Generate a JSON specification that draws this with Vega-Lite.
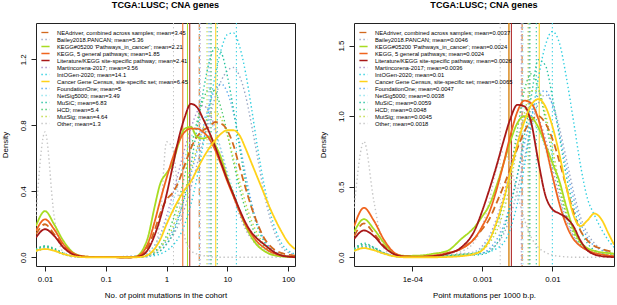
{
"$schema": "https://vega.github.io/schema/vega-lite/v6.json",
"padding": 0,
"autosize": {"type": "pad"},
"config": {
 "font": "Liberation Sans",
 "view": {"stroke": "#222", "strokeWidth": 1},
 "axis": {"grid": false, "domain": false, "tickColor": "#222", "tickSize": 5, "labelFontSize": 7.9, "titleFontSize": 7.9, "titleFontWeight": "normal", "labelColor": "#000", "titleColor": "#000", "labelOverlap": false, "labelFlush": false},
 "legend": {"orient": "top-left", "offset": 4, "padding": 2, "symbolType": "M-1.5,0H1.5", "symbolSize": 30, "symbolStrokeWidth": 1.3, "labelFontSize": 5.8, "labelOffset": 8, "rowPadding": 0, "labelLimit": 400, "labelColor": "#000"},
 "title": {"fontSize": 9.1, "fontWeight": "bold", "frame": "group", "offset": 12, "color": "#000"}
},
"datasets": {
 "meansL": [{"k":"a","m":3.45},{"k":"b","m":5.36},{"k":"c","m":2.21},{"k":"d","m":1.85},{"k":"e","m":2.41},{"k":"f","m":3.56},{"k":"g","m":14.1},{"k":"h","m":6.45},{"k":"i","m":5},{"k":"j","m":3.49},{"k":"k","m":6.83},{"k":"l","m":5.4},{"k":"m","m":4.64},{"k":"n","m":1.3}],
 "meansR": [{"k":"a","m":0.0037},{"k":"b","m":0.0046},{"k":"c","m":0.0024},{"k":"d","m":0.0024},{"k":"e","m":0.0026},{"k":"f","m":0.0036},{"k":"g","m":0.01},{"k":"h","m":0.0065},{"k":"i","m":0.0047},{"k":"j","m":0.0038},{"k":"k","m":0.0059},{"k":"l","m":0.0048},{"k":"m","m":0.0045},{"k":"n","m":0.0018}],
 "curvesL": [
{"k":"a","x":0.0071,"y":0.14},{"k":"a","x":0.01,"y":0.2},{"k":"a","x":0.0141,"y":0.14},{"k":"a","x":0.02,"y":0.07},{"k":"a","x":0.0316,"y":0.015},{"k":"a","x":0.0501,"y":0.002},{"k":"a","x":0.251,"y":0},{"k":"a","x":0.316,"y":0.003},{"k":"a","x":0.398,"y":0.02},{"k":"a","x":0.501,"y":0.07},{"k":"a","x":0.631,"y":0.16},{"k":"a","x":0.794,"y":0.27},{"k":"a","x":1,"y":0.35},{"k":"a","x":1.259,"y":0.39},{"k":"a","x":1.585,"y":0.46},{"k":"a","x":1.995,"y":0.56},{"k":"a","x":2.512,"y":0.66},{"k":"a","x":3.162,"y":0.73},{"k":"a","x":3.981,"y":0.77},{"k":"a","x":5.012,"y":0.79},{"k":"a","x":6.31,"y":0.82},{"k":"a","x":7.943,"y":0.81},{"k":"a","x":10,"y":0.77},{"k":"a","x":12.59,"y":0.68},{"k":"a","x":15.85,"y":0.55},{"k":"a","x":19.95,"y":0.42},{"k":"a","x":25.12,"y":0.3},{"k":"a","x":31.62,"y":0.2},{"k":"a","x":39.81,"y":0.12},{"k":"a","x":50.12,"y":0.07},{"k":"a","x":63.1,"y":0.04},{"k":"a","x":79.43,"y":0.025},{"k":"a","x":100,"y":0.015},{"k":"a","x":130,"y":0.01},
{"k":"c","x":0.0071,"y":0.19},{"k":"c","x":0.01,"y":0.28},{"k":"c","x":0.0141,"y":0.2},{"k":"c","x":0.02,"y":0.1},{"k":"c","x":0.0316,"y":0.02},{"k":"c","x":0.0501,"y":0.003},{"k":"c","x":0.251,"y":0},{"k":"c","x":0.316,"y":0.005},{"k":"c","x":0.398,"y":0.04},{"k":"c","x":0.501,"y":0.13},{"k":"c","x":0.631,"y":0.3},{"k":"c","x":0.794,"y":0.45},{"k":"c","x":1,"y":0.51},{"k":"c","x":1.259,"y":0.57},{"k":"c","x":1.585,"y":0.69},{"k":"c","x":1.995,"y":0.78},{"k":"c","x":2.512,"y":0.79},{"k":"c","x":3.162,"y":0.73},{"k":"c","x":3.981,"y":0.72},{"k":"c","x":5.012,"y":0.73},{"k":"c","x":6.31,"y":0.68},{"k":"c","x":7.943,"y":0.6},{"k":"c","x":10,"y":0.48},{"k":"c","x":12.59,"y":0.38},{"k":"c","x":15.85,"y":0.28},{"k":"c","x":19.95,"y":0.19},{"k":"c","x":25.12,"y":0.12},{"k":"c","x":31.62,"y":0.07},{"k":"c","x":39.81,"y":0.04},{"k":"c","x":50.12,"y":0.02},{"k":"c","x":63.1,"y":0.01},{"k":"c","x":79.43,"y":0.005},{"k":"c","x":100,"y":0.002},{"k":"c","x":130,"y":0},
{"k":"d","x":0.0071,"y":0.16},{"k":"d","x":0.01,"y":0.23},{"k":"d","x":0.0141,"y":0.17},{"k":"d","x":0.02,"y":0.08},{"k":"d","x":0.0316,"y":0.018},{"k":"d","x":0.0501,"y":0.003},{"k":"d","x":0.251,"y":0},{"k":"d","x":0.316,"y":0.004},{"k":"d","x":0.398,"y":0.025},{"k":"d","x":0.501,"y":0.09},{"k":"d","x":0.631,"y":0.21},{"k":"d","x":0.794,"y":0.35},{"k":"d","x":1,"y":0.48},{"k":"d","x":1.259,"y":0.6},{"k":"d","x":1.585,"y":0.7},{"k":"d","x":1.995,"y":0.76},{"k":"d","x":2.512,"y":0.78},{"k":"d","x":3.162,"y":0.78},{"k":"d","x":3.981,"y":0.76},{"k":"d","x":5.012,"y":0.72},{"k":"d","x":6.31,"y":0.65},{"k":"d","x":7.943,"y":0.56},{"k":"d","x":10,"y":0.46},{"k":"d","x":12.59,"y":0.37},{"k":"d","x":15.85,"y":0.28},{"k":"d","x":19.95,"y":0.2},{"k":"d","x":25.12,"y":0.14},{"k":"d","x":31.62,"y":0.09},{"k":"d","x":39.81,"y":0.06},{"k":"d","x":50.12,"y":0.035},{"k":"d","x":63.1,"y":0.02},{"k":"d","x":79.43,"y":0.01},{"k":"d","x":100,"y":0.005},{"k":"d","x":130,"y":0.002},
{"k":"e","x":0.0071,"y":0.12},{"k":"e","x":0.01,"y":0.17},{"k":"e","x":0.0141,"y":0.13},{"k":"e","x":0.02,"y":0.06},{"k":"e","x":0.0316,"y":0.012},{"k":"e","x":0.0501,"y":0.002},{"k":"e","x":0.251,"y":0},{"k":"e","x":0.316,"y":0.002},{"k":"e","x":0.398,"y":0.012},{"k":"e","x":0.501,"y":0.05},{"k":"e","x":0.631,"y":0.13},{"k":"e","x":0.794,"y":0.24},{"k":"e","x":1,"y":0.38},{"k":"e","x":1.259,"y":0.55},{"k":"e","x":1.585,"y":0.72},{"k":"e","x":1.995,"y":0.85},{"k":"e","x":2.512,"y":0.93},{"k":"e","x":3.162,"y":0.91},{"k":"e","x":3.981,"y":0.84},{"k":"e","x":5.012,"y":0.76},{"k":"e","x":6.31,"y":0.67},{"k":"e","x":7.943,"y":0.57},{"k":"e","x":10,"y":0.47},{"k":"e","x":12.59,"y":0.38},{"k":"e","x":15.85,"y":0.29},{"k":"e","x":19.95,"y":0.21},{"k":"e","x":25.12,"y":0.15},{"k":"e","x":31.62,"y":0.11},{"k":"e","x":39.81,"y":0.08},{"k":"e","x":50.12,"y":0.05},{"k":"e","x":63.1,"y":0.025},{"k":"e","x":79.43,"y":0.01},{"k":"e","x":100,"y":0.004},{"k":"e","x":130,"y":0.001},
{"k":"h","x":0.0071,"y":0.04},{"k":"h","x":0.01,"y":0.05},{"k":"h","x":0.0141,"y":0.04},{"k":"h","x":0.02,"y":0.02},{"k":"h","x":0.0316,"y":0.005},{"k":"h","x":0.0501,"y":0},{"k":"h","x":0.251,"y":0},{"k":"h","x":0.316,"y":0},{"k":"h","x":0.398,"y":0.003},{"k":"h","x":0.501,"y":0.015},{"k":"h","x":0.631,"y":0.05},{"k":"h","x":0.794,"y":0.11},{"k":"h","x":1,"y":0.2},{"k":"h","x":1.259,"y":0.28},{"k":"h","x":1.585,"y":0.35},{"k":"h","x":1.995,"y":0.41},{"k":"h","x":2.512,"y":0.46},{"k":"h","x":3.162,"y":0.53},{"k":"h","x":3.981,"y":0.6},{"k":"h","x":5.012,"y":0.66},{"k":"h","x":6.31,"y":0.71},{"k":"h","x":7.943,"y":0.75},{"k":"h","x":10,"y":0.77},{"k":"h","x":12.59,"y":0.77},{"k":"h","x":15.85,"y":0.74},{"k":"h","x":19.95,"y":0.66},{"k":"h","x":25.12,"y":0.57},{"k":"h","x":31.62,"y":0.48},{"k":"h","x":39.81,"y":0.39},{"k":"h","x":50.12,"y":0.3},{"k":"h","x":63.1,"y":0.22},{"k":"h","x":79.43,"y":0.15},{"k":"h","x":100,"y":0.09},{"k":"h","x":130,"y":0.05},
{"k":"b","x":0.0071,"y":0.04},{"k":"b","x":0.01,"y":0.06},{"k":"b","x":0.0141,"y":0.045},{"k":"b","x":0.02,"y":0.02},{"k":"b","x":0.0316,"y":0.005},{"k":"b","x":0.0501,"y":0},{"k":"b","x":0.398,"y":0.005},{"k":"b","x":0.501,"y":0.01},{"k":"b","x":0.631,"y":0.02},{"k":"b","x":0.794,"y":0.04},{"k":"b","x":1,"y":0.08},{"k":"b","x":1.259,"y":0.13},{"k":"b","x":1.585,"y":0.2},{"k":"b","x":1.995,"y":0.3},{"k":"b","x":2.512,"y":0.42},{"k":"b","x":3.162,"y":0.56},{"k":"b","x":3.981,"y":0.7},{"k":"b","x":5.012,"y":0.84},{"k":"b","x":6.31,"y":0.97},{"k":"b","x":7.943,"y":1.07},{"k":"b","x":10,"y":1.13},{"k":"b","x":12.59,"y":1.15},{"k":"b","x":15.85,"y":1.1},{"k":"b","x":19.95,"y":0.98},{"k":"b","x":25.12,"y":0.8},{"k":"b","x":31.62,"y":0.6},{"k":"b","x":39.81,"y":0.4},{"k":"b","x":50.12,"y":0.24},{"k":"b","x":63.1,"y":0.13},{"k":"b","x":79.43,"y":0.06},{"k":"b","x":100,"y":0.03},{"k":"b","x":130,"y":0.015},
{"k":"f","x":0.0071,"y":0.035},{"k":"f","x":0.01,"y":0.05},{"k":"f","x":0.0141,"y":0.04},{"k":"f","x":0.02,"y":0.018},{"k":"f","x":0.0316,"y":0.004},{"k":"f","x":0.0501,"y":0},{"k":"f","x":0.398,"y":0.01},{"k":"f","x":0.501,"y":0.03},{"k":"f","x":0.631,"y":0.07},{"k":"f","x":0.794,"y":0.14},{"k":"f","x":1,"y":0.25},{"k":"f","x":1.259,"y":0.38},{"k":"f","x":1.585,"y":0.52},{"k":"f","x":1.995,"y":0.66},{"k":"f","x":2.512,"y":0.78},{"k":"f","x":3.162,"y":0.88},{"k":"f","x":3.981,"y":0.92},{"k":"f","x":5.012,"y":0.88},{"k":"f","x":6.31,"y":0.78},{"k":"f","x":7.943,"y":0.64},{"k":"f","x":10,"y":0.5},{"k":"f","x":12.59,"y":0.37},{"k":"f","x":15.85,"y":0.26},{"k":"f","x":19.95,"y":0.17},{"k":"f","x":25.12,"y":0.11},{"k":"f","x":31.62,"y":0.07},{"k":"f","x":39.81,"y":0.04},{"k":"f","x":50.12,"y":0.02},{"k":"f","x":63.1,"y":0.01},{"k":"f","x":79.43,"y":0.005},{"k":"f","x":100,"y":0.002},{"k":"f","x":130,"y":0},
{"k":"g","x":0.0071,"y":0.04},{"k":"g","x":0.01,"y":0.06},{"k":"g","x":0.0141,"y":0.045},{"k":"g","x":0.02,"y":0.02},{"k":"g","x":0.0316,"y":0.005},{"k":"g","x":0.0501,"y":0},{"k":"g","x":0.398,"y":0},{"k":"g","x":0.501,"y":0.005},{"k":"g","x":0.631,"y":0.01},{"k":"g","x":0.794,"y":0.02},{"k":"g","x":1,"y":0.04},{"k":"g","x":1.259,"y":0.07},{"k":"g","x":1.585,"y":0.12},{"k":"g","x":1.995,"y":0.2},{"k":"g","x":2.512,"y":0.32},{"k":"g","x":3.162,"y":0.48},{"k":"g","x":3.981,"y":0.68},{"k":"g","x":5.012,"y":0.9},{"k":"g","x":6.31,"y":1.1},{"k":"g","x":7.943,"y":1.26},{"k":"g","x":10,"y":1.35},{"k":"g","x":12.59,"y":1.36},{"k":"g","x":15.85,"y":1.28},{"k":"g","x":19.95,"y":1.12},{"k":"g","x":25.12,"y":0.9},{"k":"g","x":31.62,"y":0.66},{"k":"g","x":39.81,"y":0.45},{"k":"g","x":50.12,"y":0.28},{"k":"g","x":63.1,"y":0.16},{"k":"g","x":79.43,"y":0.08},{"k":"g","x":100,"y":0.04},{"k":"g","x":130,"y":0.02},
{"k":"i","x":0.0071,"y":0.045},{"k":"i","x":0.01,"y":0.065},{"k":"i","x":0.0141,"y":0.05},{"k":"i","x":0.02,"y":0.022},{"k":"i","x":0.0316,"y":0.005},{"k":"i","x":0.0501,"y":0},{"k":"i","x":0.398,"y":0.005},{"k":"i","x":0.501,"y":0.015},{"k":"i","x":0.631,"y":0.03},{"k":"i","x":0.794,"y":0.06},{"k":"i","x":1,"y":0.1},{"k":"i","x":1.259,"y":0.16},{"k":"i","x":1.585,"y":0.25},{"k":"i","x":1.995,"y":0.36},{"k":"i","x":2.512,"y":0.5},{"k":"i","x":3.162,"y":0.64},{"k":"i","x":3.981,"y":0.78},{"k":"i","x":5.012,"y":0.92},{"k":"i","x":6.31,"y":1.02},{"k":"i","x":7.943,"y":1.05},{"k":"i","x":10,"y":1.0},{"k":"i","x":12.59,"y":0.88},{"k":"i","x":15.85,"y":0.7},{"k":"i","x":19.95,"y":0.5},{"k":"i","x":25.12,"y":0.33},{"k":"i","x":31.62,"y":0.2},{"k":"i","x":39.81,"y":0.11},{"k":"i","x":50.12,"y":0.06},{"k":"i","x":63.1,"y":0.03},{"k":"i","x":79.43,"y":0.015},{"k":"i","x":100,"y":0.008},{"k":"i","x":130,"y":0.004},
{"k":"j","x":0.0071,"y":0.04},{"k":"j","x":0.01,"y":0.055},{"k":"j","x":0.0141,"y":0.04},{"k":"j","x":0.02,"y":0.018},{"k":"j","x":0.0316,"y":0.004},{"k":"j","x":0.0501,"y":0},{"k":"j","x":0.398,"y":0.01},{"k":"j","x":0.501,"y":0.03},{"k":"j","x":0.631,"y":0.07},{"k":"j","x":0.794,"y":0.13},{"k":"j","x":1,"y":0.22},{"k":"j","x":1.259,"y":0.33},{"k":"j","x":1.585,"y":0.46},{"k":"j","x":1.995,"y":0.6},{"k":"j","x":2.512,"y":0.72},{"k":"j","x":3.162,"y":0.81},{"k":"j","x":3.981,"y":0.85},{"k":"j","x":5.012,"y":0.83},{"k":"j","x":6.31,"y":0.76},{"k":"j","x":7.943,"y":0.65},{"k":"j","x":10,"y":0.52},{"k":"j","x":12.59,"y":0.4},{"k":"j","x":15.85,"y":0.29},{"k":"j","x":19.95,"y":0.2},{"k":"j","x":25.12,"y":0.13},{"k":"j","x":31.62,"y":0.08},{"k":"j","x":39.81,"y":0.05},{"k":"j","x":50.12,"y":0.03},{"k":"j","x":63.1,"y":0.015},{"k":"j","x":79.43,"y":0.008},{"k":"j","x":100,"y":0.004},{"k":"j","x":130,"y":0},
{"k":"k","x":0.0071,"y":0.05},{"k":"k","x":0.01,"y":0.07},{"k":"k","x":0.0141,"y":0.055},{"k":"k","x":0.02,"y":0.025},{"k":"k","x":0.0316,"y":0.006},{"k":"k","x":0.0501,"y":0},{"k":"k","x":0.398,"y":0.003},{"k":"k","x":0.501,"y":0.008},{"k":"k","x":0.631,"y":0.02},{"k":"k","x":0.794,"y":0.04},{"k":"k","x":1,"y":0.08},{"k":"k","x":1.259,"y":0.14},{"k":"k","x":1.585,"y":0.24},{"k":"k","x":1.995,"y":0.38},{"k":"k","x":2.512,"y":0.56},{"k":"k","x":3.162,"y":0.78},{"k":"k","x":3.981,"y":1.0},{"k":"k","x":5.012,"y":1.18},{"k":"k","x":6.31,"y":1.27},{"k":"k","x":7.943,"y":1.24},{"k":"k","x":10,"y":1.1},{"k":"k","x":12.59,"y":0.9},{"k":"k","x":15.85,"y":0.67},{"k":"k","x":19.95,"y":0.46},{"k":"k","x":25.12,"y":0.3},{"k":"k","x":31.62,"y":0.18},{"k":"k","x":39.81,"y":0.1},{"k":"k","x":50.12,"y":0.05},{"k":"k","x":63.1,"y":0.025},{"k":"k","x":79.43,"y":0.012},{"k":"k","x":100,"y":0.006},{"k":"k","x":130,"y":0.003},
{"k":"l","x":0.0071,"y":0.045},{"k":"l","x":0.01,"y":0.065},{"k":"l","x":0.0141,"y":0.05},{"k":"l","x":0.02,"y":0.022},{"k":"l","x":0.0316,"y":0.005},{"k":"l","x":0.0501,"y":0},{"k":"l","x":0.398,"y":0.005},{"k":"l","x":0.501,"y":0.015},{"k":"l","x":0.631,"y":0.035},{"k":"l","x":0.794,"y":0.07},{"k":"l","x":1,"y":0.13},{"k":"l","x":1.259,"y":0.22},{"k":"l","x":1.585,"y":0.34},{"k":"l","x":1.995,"y":0.5},{"k":"l","x":2.512,"y":0.66},{"k":"l","x":3.162,"y":0.82},{"k":"l","x":3.981,"y":0.95},{"k":"l","x":5.012,"y":1.02},{"k":"l","x":6.31,"y":1.0},{"k":"l","x":7.943,"y":0.9},{"k":"l","x":10,"y":0.75},{"k":"l","x":12.59,"y":0.58},{"k":"l","x":15.85,"y":0.42},{"k":"l","x":19.95,"y":0.29},{"k":"l","x":25.12,"y":0.19},{"k":"l","x":31.62,"y":0.12},{"k":"l","x":39.81,"y":0.07},{"k":"l","x":50.12,"y":0.04},{"k":"l","x":63.1,"y":0.02},{"k":"l","x":79.43,"y":0.01},{"k":"l","x":100,"y":0.005},{"k":"l","x":130,"y":0.002},
{"k":"m","x":0.0071,"y":0.035},{"k":"m","x":0.01,"y":0.05},{"k":"m","x":0.0141,"y":0.04},{"k":"m","x":0.02,"y":0.018},{"k":"m","x":0.0316,"y":0.004},{"k":"m","x":0.0501,"y":0},{"k":"m","x":0.398,"y":0.005},{"k":"m","x":0.501,"y":0.015},{"k":"m","x":0.631,"y":0.03},{"k":"m","x":0.794,"y":0.06},{"k":"m","x":1,"y":0.11},{"k":"m","x":1.259,"y":0.18},{"k":"m","x":1.585,"y":0.28},{"k":"m","x":1.995,"y":0.4},{"k":"m","x":2.512,"y":0.53},{"k":"m","x":3.162,"y":0.66},{"k":"m","x":3.981,"y":0.78},{"k":"m","x":5.012,"y":0.86},{"k":"m","x":6.31,"y":0.88},{"k":"m","x":7.943,"y":0.84},{"k":"m","x":10,"y":0.74},{"k":"m","x":12.59,"y":0.6},{"k":"m","x":15.85,"y":0.46},{"k":"m","x":19.95,"y":0.33},{"k":"m","x":25.12,"y":0.22},{"k":"m","x":31.62,"y":0.14},{"k":"m","x":39.81,"y":0.08},{"k":"m","x":50.12,"y":0.045},{"k":"m","x":63.1,"y":0.025},{"k":"m","x":79.43,"y":0.012},{"k":"m","x":100,"y":0.006},{"k":"m","x":130,"y":0.003},
{"k":"n","x":0.0071,"y":0.25},{"k":"n","x":0.01,"y":0.76},{"k":"n","x":0.0141,"y":0.25},{"k":"n","x":0.02,"y":0.03},{"k":"n","x":0.0316,"y":0},{"k":"n","x":0.0501,"y":0},{"k":"n","x":0.398,"y":0},{"k":"n","x":0.501,"y":0.005},{"k":"n","x":0.631,"y":0.04},{"k":"n","x":0.794,"y":0.25},{"k":"n","x":1,"y":0.7},{"k":"n","x":1.259,"y":0.66},{"k":"n","x":1.585,"y":0.35},{"k":"n","x":1.995,"y":0.12},{"k":"n","x":2.512,"y":0.04},{"k":"n","x":3.162,"y":0.02},{"k":"n","x":3.981,"y":0.01},{"k":"n","x":5.012,"y":0.005},{"k":"n","x":6.31,"y":0},{"k":"n","x":130,"y":0}
 ],
 "curvesR": [
{"k":"a","x":1.48e-5,"y":0.15},{"k":"a","x":2.04e-5,"y":0.24},{"k":"a","x":2.82e-5,"y":0.17},{"k":"a","x":3.98e-5,"y":0.08},{"k":"a","x":5.62e-5,"y":0.02},{"k":"a","x":7.94e-5,"y":0.004},{"k":"a","x":1.26e-4,"y":0.003},{"k":"a","x":2.0e-4,"y":0.01},{"k":"a","x":3.16e-4,"y":0.03},{"k":"a","x":5.01e-4,"y":0.06},{"k":"a","x":7.94e-4,"y":0.14},{"k":"a","x":0.001,"y":0.2},{"k":"a","x":0.00126,"y":0.27},{"k":"a","x":0.00158,"y":0.38},{"k":"a","x":0.002,"y":0.5},{"k":"a","x":0.00251,"y":0.63},{"k":"a","x":0.00316,"y":0.77},{"k":"a","x":0.00398,"y":0.89},{"k":"a","x":0.00501,"y":0.97},{"k":"a","x":0.00631,"y":1.0},{"k":"a","x":0.00794,"y":0.95},{"k":"a","x":0.01,"y":0.84},{"k":"a","x":0.0126,"y":0.68},{"k":"a","x":0.0158,"y":0.5},{"k":"a","x":0.02,"y":0.32},{"k":"a","x":0.0251,"y":0.19},{"k":"a","x":0.0316,"y":0.12},{"k":"a","x":0.0398,"y":0.08},{"k":"a","x":0.0501,"y":0.06},{"k":"a","x":0.0631,"y":0.045},{"k":"a","x":0.0759,"y":0.04},
{"k":"c","x":1.48e-5,"y":0.18},{"k":"c","x":2.04e-5,"y":0.27},{"k":"c","x":2.82e-5,"y":0.2},{"k":"c","x":3.98e-5,"y":0.1},{"k":"c","x":5.62e-5,"y":0.025},{"k":"c","x":7.94e-5,"y":0.01},{"k":"c","x":1.26e-4,"y":0.012},{"k":"c","x":2.0e-4,"y":0.025},{"k":"c","x":3.16e-4,"y":0.045},{"k":"c","x":5.01e-4,"y":0.13},{"k":"c","x":7.94e-4,"y":0.22},{"k":"c","x":0.001,"y":0.29},{"k":"c","x":0.00126,"y":0.37},{"k":"c","x":0.00158,"y":0.5},{"k":"c","x":0.002,"y":0.66},{"k":"c","x":0.00251,"y":0.82},{"k":"c","x":0.00316,"y":0.95},{"k":"c","x":0.00398,"y":1.0},{"k":"c","x":0.00501,"y":0.99},{"k":"c","x":0.00631,"y":0.92},{"k":"c","x":0.00794,"y":0.8},{"k":"c","x":0.01,"y":0.67},{"k":"c","x":0.0126,"y":0.54},{"k":"c","x":0.0158,"y":0.36},{"k":"c","x":0.02,"y":0.2},{"k":"c","x":0.0251,"y":0.11},{"k":"c","x":0.0316,"y":0.065},{"k":"c","x":0.0398,"y":0.045},{"k":"c","x":0.0501,"y":0.035},{"k":"c","x":0.0631,"y":0.03},{"k":"c","x":0.0759,"y":0.025},
{"k":"d","x":1.48e-5,"y":0.22},{"k":"d","x":2.04e-5,"y":0.35},{"k":"d","x":2.82e-5,"y":0.26},{"k":"d","x":3.98e-5,"y":0.12},{"k":"d","x":5.62e-5,"y":0.03},{"k":"d","x":7.94e-5,"y":0.006},{"k":"d","x":1.26e-4,"y":0.004},{"k":"d","x":2.0e-4,"y":0.012},{"k":"d","x":3.16e-4,"y":0.03},{"k":"d","x":5.01e-4,"y":0.06},{"k":"d","x":7.94e-4,"y":0.14},{"k":"d","x":0.001,"y":0.22},{"k":"d","x":0.00126,"y":0.32},{"k":"d","x":0.00158,"y":0.47},{"k":"d","x":0.002,"y":0.66},{"k":"d","x":0.00251,"y":0.86},{"k":"d","x":0.00316,"y":1.03},{"k":"d","x":0.00398,"y":1.11},{"k":"d","x":0.00501,"y":1.09},{"k":"d","x":0.00631,"y":0.98},{"k":"d","x":0.00794,"y":0.8},{"k":"d","x":0.01,"y":0.58},{"k":"d","x":0.0126,"y":0.38},{"k":"d","x":0.0158,"y":0.23},{"k":"d","x":0.02,"y":0.13},{"k":"d","x":0.0251,"y":0.08},{"k":"d","x":0.0316,"y":0.05},{"k":"d","x":0.0398,"y":0.03},{"k":"d","x":0.0501,"y":0.02},{"k":"d","x":0.0631,"y":0.012},{"k":"d","x":0.0759,"y":0.008},
{"k":"e","x":1.48e-5,"y":0.13},{"k":"e","x":2.04e-5,"y":0.19},{"k":"e","x":2.82e-5,"y":0.15},{"k":"e","x":3.98e-5,"y":0.07},{"k":"e","x":5.62e-5,"y":0.02},{"k":"e","x":7.94e-5,"y":0.004},{"k":"e","x":1.26e-4,"y":0.003},{"k":"e","x":2.0e-4,"y":0.008},{"k":"e","x":3.16e-4,"y":0.025},{"k":"e","x":5.01e-4,"y":0.07},{"k":"e","x":7.94e-4,"y":0.2},{"k":"e","x":0.001,"y":0.33},{"k":"e","x":0.00126,"y":0.48},{"k":"e","x":0.00158,"y":0.64},{"k":"e","x":0.002,"y":0.82},{"k":"e","x":0.00251,"y":0.98},{"k":"e","x":0.00316,"y":1.08},{"k":"e","x":0.00398,"y":1.07},{"k":"e","x":0.00501,"y":0.95},{"k":"e","x":0.00631,"y":0.68},{"k":"e","x":0.00794,"y":0.44},{"k":"e","x":0.01,"y":0.34},{"k":"e","x":0.0126,"y":0.31},{"k":"e","x":0.0158,"y":0.28},{"k":"e","x":0.02,"y":0.22},{"k":"e","x":0.0251,"y":0.12},{"k":"e","x":0.0316,"y":0.05},{"k":"e","x":0.0398,"y":0.02},{"k":"e","x":0.0501,"y":0.008},{"k":"e","x":0.0631,"y":0.003},{"k":"e","x":0.0759,"y":0.001},
{"k":"h","x":1.48e-5,"y":0.045},{"k":"h","x":2.04e-5,"y":0.065},{"k":"h","x":2.82e-5,"y":0.05},{"k":"h","x":3.98e-5,"y":0.025},{"k":"h","x":5.62e-5,"y":0.006},{"k":"h","x":7.94e-5,"y":0},{"k":"h","x":1.26e-4,"y":0},{"k":"h","x":2.0e-4,"y":0},{"k":"h","x":3.16e-4,"y":0.002},{"k":"h","x":5.01e-4,"y":0.008},{"k":"h","x":7.94e-4,"y":0.025},{"k":"h","x":0.001,"y":0.05},{"k":"h","x":0.00126,"y":0.12},{"k":"h","x":0.00158,"y":0.24},{"k":"h","x":0.002,"y":0.4},{"k":"h","x":0.00251,"y":0.6},{"k":"h","x":0.00316,"y":0.8},{"k":"h","x":0.00398,"y":0.96},{"k":"h","x":0.00501,"y":1.08},{"k":"h","x":0.00631,"y":1.12},{"k":"h","x":0.00794,"y":1.07},{"k":"h","x":0.01,"y":0.93},{"k":"h","x":0.0126,"y":0.73},{"k":"h","x":0.0158,"y":0.5},{"k":"h","x":0.02,"y":0.3},{"k":"h","x":0.0251,"y":0.22},{"k":"h","x":0.0316,"y":0.26},{"k":"h","x":0.0398,"y":0.31},{"k":"h","x":0.0501,"y":0.27},{"k":"h","x":0.0631,"y":0.17},{"k":"h","x":0.0759,"y":0.09},
{"k":"b","x":1.48e-5,"y":0.05},{"k":"b","x":2.04e-5,"y":0.08},{"k":"b","x":2.82e-5,"y":0.06},{"k":"b","x":3.98e-5,"y":0.03},{"k":"b","x":5.62e-5,"y":0.008},{"k":"b","x":7.94e-5,"y":0.002},{"k":"b","x":1.26e-4,"y":0.002},{"k":"b","x":2.0e-4,"y":0.005},{"k":"b","x":3.16e-4,"y":0.01},{"k":"b","x":5.01e-4,"y":0.015},{"k":"b","x":7.94e-4,"y":0.02},{"k":"b","x":0.001,"y":0.03},{"k":"b","x":0.00126,"y":0.05},{"k":"b","x":0.00158,"y":0.09},{"k":"b","x":0.002,"y":0.16},{"k":"b","x":0.00251,"y":0.29},{"k":"b","x":0.00316,"y":0.47},{"k":"b","x":0.00398,"y":0.7},{"k":"b","x":0.00501,"y":0.92},{"k":"b","x":0.00631,"y":1.09},{"k":"b","x":0.00794,"y":1.15},{"k":"b","x":0.01,"y":1.09},{"k":"b","x":0.0126,"y":0.92},{"k":"b","x":0.0158,"y":0.7},{"k":"b","x":0.02,"y":0.47},{"k":"b","x":0.0251,"y":0.29},{"k":"b","x":0.0316,"y":0.17},{"k":"b","x":0.0398,"y":0.1},{"k":"b","x":0.0501,"y":0.06},{"k":"b","x":0.0631,"y":0.035},{"k":"b","x":0.0759,"y":0.025},
{"k":"f","x":1.48e-5,"y":0.045},{"k":"f","x":2.04e-5,"y":0.07},{"k":"f","x":2.82e-5,"y":0.05},{"k":"f","x":3.98e-5,"y":0.025},{"k":"f","x":5.62e-5,"y":0.006},{"k":"f","x":7.94e-5,"y":0.002},{"k":"f","x":1.26e-4,"y":0.003},{"k":"f","x":2.0e-4,"y":0.008},{"k":"f","x":3.16e-4,"y":0.015},{"k":"f","x":5.01e-4,"y":0.025},{"k":"f","x":7.94e-4,"y":0.04},{"k":"f","x":0.001,"y":0.08},{"k":"f","x":0.00126,"y":0.15},{"k":"f","x":0.00158,"y":0.27},{"k":"f","x":0.002,"y":0.43},{"k":"f","x":0.00251,"y":0.64},{"k":"f","x":0.00316,"y":0.84},{"k":"f","x":0.00398,"y":0.99},{"k":"f","x":0.00501,"y":1.05},{"k":"f","x":0.00631,"y":0.99},{"k":"f","x":0.00794,"y":0.84},{"k":"f","x":0.01,"y":0.64},{"k":"f","x":0.0126,"y":0.43},{"k":"f","x":0.0158,"y":0.27},{"k":"f","x":0.02,"y":0.15},{"k":"f","x":0.0251,"y":0.08},{"k":"f","x":0.0316,"y":0.05},{"k":"f","x":0.0398,"y":0.03},{"k":"f","x":0.0501,"y":0.02},{"k":"f","x":0.0631,"y":0.015},{"k":"f","x":0.0759,"y":0.01},
{"k":"g","x":1.48e-5,"y":0.05},{"k":"g","x":2.04e-5,"y":0.075},{"k":"g","x":2.82e-5,"y":0.055},{"k":"g","x":3.98e-5,"y":0.025},{"k":"g","x":5.62e-5,"y":0.006},{"k":"g","x":7.94e-5,"y":0.002},{"k":"g","x":1.26e-4,"y":0.003},{"k":"g","x":2.0e-4,"y":0.006},{"k":"g","x":3.16e-4,"y":0.01},{"k":"g","x":5.01e-4,"y":0.015},{"k":"g","x":7.94e-4,"y":0.02},{"k":"g","x":0.001,"y":0.03},{"k":"g","x":0.00126,"y":0.04},{"k":"g","x":0.00158,"y":0.06},{"k":"g","x":0.002,"y":0.1},{"k":"g","x":0.00251,"y":0.2},{"k":"g","x":0.00316,"y":0.38},{"k":"g","x":0.00398,"y":0.64},{"k":"g","x":0.00501,"y":0.96},{"k":"g","x":0.00631,"y":1.27},{"k":"g","x":0.00794,"y":1.5},{"k":"g","x":0.01,"y":1.6},{"k":"g","x":0.0126,"y":1.52},{"k":"g","x":0.0158,"y":1.28},{"k":"g","x":0.02,"y":0.97},{"k":"g","x":0.0251,"y":0.66},{"k":"g","x":0.0316,"y":0.42},{"k":"g","x":0.0398,"y":0.3},{"k":"g","x":0.0501,"y":0.2},{"k":"g","x":0.0631,"y":0.12},{"k":"g","x":0.0759,"y":0.07},
{"k":"i","x":1.48e-5,"y":0.06},{"k":"i","x":2.04e-5,"y":0.09},{"k":"i","x":2.82e-5,"y":0.07},{"k":"i","x":3.98e-5,"y":0.03},{"k":"i","x":5.62e-5,"y":0.008},{"k":"i","x":7.94e-5,"y":0.002},{"k":"i","x":1.26e-4,"y":0.003},{"k":"i","x":2.0e-4,"y":0.008},{"k":"i","x":3.16e-4,"y":0.015},{"k":"i","x":5.01e-4,"y":0.02},{"k":"i","x":7.94e-4,"y":0.025},{"k":"i","x":0.001,"y":0.03},{"k":"i","x":0.00126,"y":0.06},{"k":"i","x":0.00158,"y":0.12},{"k":"i","x":0.002,"y":0.22},{"k":"i","x":0.00251,"y":0.38},{"k":"i","x":0.00316,"y":0.58},{"k":"i","x":0.00398,"y":0.8},{"k":"i","x":0.00501,"y":1.0},{"k":"i","x":0.00631,"y":1.15},{"k":"i","x":0.00794,"y":1.18},{"k":"i","x":0.01,"y":1.08},{"k":"i","x":0.0126,"y":0.88},{"k":"i","x":0.0158,"y":0.64},{"k":"i","x":0.02,"y":0.42},{"k":"i","x":0.0251,"y":0.25},{"k":"i","x":0.0316,"y":0.14},{"k":"i","x":0.0398,"y":0.08},{"k":"i","x":0.0501,"y":0.05},{"k":"i","x":0.0631,"y":0.03},{"k":"i","x":0.0759,"y":0.02},
{"k":"j","x":1.48e-5,"y":0.04},{"k":"j","x":2.04e-5,"y":0.065},{"k":"j","x":2.82e-5,"y":0.05},{"k":"j","x":3.98e-5,"y":0.022},{"k":"j","x":5.62e-5,"y":0.005},{"k":"j","x":7.94e-5,"y":0.001},{"k":"j","x":1.26e-4,"y":0.002},{"k":"j","x":2.0e-4,"y":0.006},{"k":"j","x":3.16e-4,"y":0.012},{"k":"j","x":5.01e-4,"y":0.02},{"k":"j","x":7.94e-4,"y":0.04},{"k":"j","x":0.001,"y":0.07},{"k":"j","x":0.00126,"y":0.14},{"k":"j","x":0.00158,"y":0.25},{"k":"j","x":0.002,"y":0.4},{"k":"j","x":0.00251,"y":0.58},{"k":"j","x":0.00316,"y":0.77},{"k":"j","x":0.00398,"y":0.9},{"k":"j","x":0.00501,"y":0.95},{"k":"j","x":0.00631,"y":0.9},{"k":"j","x":0.00794,"y":0.77},{"k":"j","x":0.01,"y":0.58},{"k":"j","x":0.0126,"y":0.4},{"k":"j","x":0.0158,"y":0.25},{"k":"j","x":0.02,"y":0.14},{"k":"j","x":0.0251,"y":0.08},{"k":"j","x":0.0316,"y":0.05},{"k":"j","x":0.0398,"y":0.03},{"k":"j","x":0.0501,"y":0.02},{"k":"j","x":0.0631,"y":0.012},{"k":"j","x":0.0759,"y":0.008},
{"k":"k","x":1.48e-5,"y":0.06},{"k":"k","x":2.04e-5,"y":0.1},{"k":"k","x":2.82e-5,"y":0.07},{"k":"k","x":3.98e-5,"y":0.03},{"k":"k","x":5.62e-5,"y":0.008},{"k":"k","x":7.94e-5,"y":0.002},{"k":"k","x":1.26e-4,"y":0.003},{"k":"k","x":2.0e-4,"y":0.006},{"k":"k","x":3.16e-4,"y":0.01},{"k":"k","x":5.01e-4,"y":0.013},{"k":"k","x":7.94e-4,"y":0.016},{"k":"k","x":0.001,"y":0.02},{"k":"k","x":0.00126,"y":0.04},{"k":"k","x":0.00158,"y":0.09},{"k":"k","x":0.002,"y":0.19},{"k":"k","x":0.00251,"y":0.36},{"k":"k","x":0.00316,"y":0.58},{"k":"k","x":0.00398,"y":0.86},{"k":"k","x":0.00501,"y":1.14},{"k":"k","x":0.00631,"y":1.4},{"k":"k","x":0.00794,"y":1.36},{"k":"k","x":0.01,"y":1.14},{"k":"k","x":0.0126,"y":0.86},{"k":"k","x":0.0158,"y":0.58},{"k":"k","x":0.02,"y":0.36},{"k":"k","x":0.0251,"y":0.2},{"k":"k","x":0.0316,"y":0.1},{"k":"k","x":0.0398,"y":0.05},{"k":"k","x":0.0501,"y":0.03},{"k":"k","x":0.0631,"y":0.02},{"k":"k","x":0.0759,"y":0.015},
{"k":"l","x":1.48e-5,"y":0.055},{"k":"l","x":2.04e-5,"y":0.09},{"k":"l","x":2.82e-5,"y":0.065},{"k":"l","x":3.98e-5,"y":0.03},{"k":"l","x":5.62e-5,"y":0.007},{"k":"l","x":7.94e-5,"y":0.002},{"k":"l","x":1.26e-4,"y":0.003},{"k":"l","x":2.0e-4,"y":0.007},{"k":"l","x":3.16e-4,"y":0.012},{"k":"l","x":5.01e-4,"y":0.02},{"k":"l","x":7.94e-4,"y":0.03},{"k":"l","x":0.001,"y":0.06},{"k":"l","x":0.00126,"y":0.12},{"k":"l","x":0.00158,"y":0.22},{"k":"l","x":0.002,"y":0.38},{"k":"l","x":0.00251,"y":0.6},{"k":"l","x":0.00316,"y":0.9},{"k":"l","x":0.00398,"y":1.18},{"k":"l","x":0.00501,"y":1.3},{"k":"l","x":0.00631,"y":1.2},{"k":"l","x":0.00794,"y":0.98},{"k":"l","x":0.01,"y":0.72},{"k":"l","x":0.0126,"y":0.48},{"k":"l","x":0.0158,"y":0.3},{"k":"l","x":0.02,"y":0.17},{"k":"l","x":0.0251,"y":0.09},{"k":"l","x":0.0316,"y":0.05},{"k":"l","x":0.0398,"y":0.03},{"k":"l","x":0.0501,"y":0.02},{"k":"l","x":0.0631,"y":0.012},{"k":"l","x":0.0759,"y":0.008},
{"k":"m","x":1.48e-5,"y":0.045},{"k":"m","x":2.04e-5,"y":0.07},{"k":"m","x":2.82e-5,"y":0.05},{"k":"m","x":3.98e-5,"y":0.025},{"k":"m","x":5.62e-5,"y":0.006},{"k":"m","x":7.94e-5,"y":0.002},{"k":"m","x":1.26e-4,"y":0.003},{"k":"m","x":2.0e-4,"y":0.007},{"k":"m","x":3.16e-4,"y":0.012},{"k":"m","x":5.01e-4,"y":0.02},{"k":"m","x":7.94e-4,"y":0.03},{"k":"m","x":0.001,"y":0.05},{"k":"m","x":0.00126,"y":0.1},{"k":"m","x":0.00158,"y":0.18},{"k":"m","x":0.002,"y":0.32},{"k":"m","x":0.00251,"y":0.52},{"k":"m","x":0.00316,"y":0.78},{"k":"m","x":0.00398,"y":1.02},{"k":"m","x":0.00501,"y":1.18},{"k":"m","x":0.00631,"y":1.18},{"k":"m","x":0.00794,"y":1.02},{"k":"m","x":0.01,"y":0.78},{"k":"m","x":0.0126,"y":0.52},{"k":"m","x":0.0158,"y":0.32},{"k":"m","x":0.02,"y":0.18},{"k":"m","x":0.0251,"y":0.1},{"k":"m","x":0.0316,"y":0.06},{"k":"m","x":0.0398,"y":0.04},{"k":"m","x":0.0501,"y":0.03},{"k":"m","x":0.0631,"y":0.02},{"k":"m","x":0.0759,"y":0.015},
{"k":"n","x":1.48e-5,"y":0.35},{"k":"n","x":2.04e-5,"y":0.82},{"k":"n","x":2.82e-5,"y":0.4},{"k":"n","x":3.98e-5,"y":0.06},{"k":"n","x":5.62e-5,"y":0.005},{"k":"n","x":7.94e-5,"y":0},{"k":"n","x":1.26e-4,"y":0},{"k":"n","x":2.0e-4,"y":0.005},{"k":"n","x":3.16e-4,"y":0.015},{"k":"n","x":5.01e-4,"y":0.04},{"k":"n","x":7.94e-4,"y":0.12},{"k":"n","x":0.001,"y":0.22},{"k":"n","x":0.00126,"y":0.4},{"k":"n","x":0.00158,"y":0.62},{"k":"n","x":0.002,"y":0.75},{"k":"n","x":0.00251,"y":0.65},{"k":"n","x":0.00316,"y":0.45},{"k":"n","x":0.00398,"y":0.27},{"k":"n","x":0.00501,"y":0.14},{"k":"n","x":0.00631,"y":0.07},{"k":"n","x":0.00794,"y":0.035},{"k":"n","x":0.01,"y":0.015},{"k":"n","x":0.0126,"y":0.007},{"k":"n","x":0.0158,"y":0.003},{"k":"n","x":0.02,"y":0},{"k":"n","x":0.0759,"y":0}
 ]
},
"spacing": 22,
"resolve": {"scale": {"color": "independent", "strokeDash": "independent"}, "legend": {"color": "independent", "strokeDash": "independent"}},
"hconcat": [
 {
  "width": 259, "height": 243,
  "title": {"text": "TCGA:LUSC; CNA genes"},
  "layer": [
   {"data": {"name": "meansL"},
    "mark": {"type": "rule", "strokeWidth": 1},
    "encoding": {
     "x": {"field": "m", "type": "quantitative", "title": "No. of point mutations in the cohort", "scale": {"type": "log", "domain": [0.0071, 130], "nice": false}, "axis": {"values": [0.01, 0.1, 1, 10, 100], "format": "~g", "labelPadding": 4, "titlePadding": 9, "labelBaseline": "top"}},
     "color": {"field": "k", "type": "nominal", "scale": {"domain": ["a","b","c","d","e","f","g","h","i","j","k","l","m","n"], "range": ["#D2691E","#98A6C4","#A8DC22","#F0641E","#A81818","#A88FCB","#2FCFE0","#FFD21A","#5AA8EE","#8EE2EE","#24C2A0","#45C96A","#BFD840","#C4C4C4"]}, "legend": {"title": null, "labelExpr": "['NEAdriver, combined across samples; mean=3.45','Bailey2018.PANCAN; mean=5.36',\"KEGG#05200 'Pathways_in_cancer'; mean=2.21\",'KEGG, 5 general pathways; mean=1.85','Literature/KEGG site-specific pathway; mean=2.41','Martincorena-2017; mean=3.56','IntOGen-2020; mean=14.1','Cancer Gene Census, site-specific set; mean=6.45','FoundationOne; mean=5','NetSig5000; mean=3.49','MuSiC; mean=6.83','HCD; mean=5.4','MutSig; mean=4.64','Other; mean=1.3'][indexof(['a','b','c','d','e','f','g','h','i','j','k','l','m','n'], datum.value)]"}},
     "strokeDash": {"field": "k", "type": "nominal", "scale": {"domain": ["a","b","c","d","e","f","g","h","i","j","k","l","m","n"], "range": [[7,4],[1.4,2.6],[1,0],[1,0],[1,0],[1.4,2.6],[1.4,2.6],[1,0],[1.4,2.6],[1.4,2.6],[1.4,2.6],[1.4,2.6],[1.4,2.6],[1.4,2.6]]}, "legend": {"title": null, "labelExpr": "['NEAdriver, combined across samples; mean=3.45','Bailey2018.PANCAN; mean=5.36',\"KEGG#05200 'Pathways_in_cancer'; mean=2.21\",'KEGG, 5 general pathways; mean=1.85','Literature/KEGG site-specific pathway; mean=2.41','Martincorena-2017; mean=3.56','IntOGen-2020; mean=14.1','Cancer Gene Census, site-specific set; mean=6.45','FoundationOne; mean=5','NetSig5000; mean=3.49','MuSiC; mean=6.83','HCD; mean=5.4','MutSig; mean=4.64','Other; mean=1.3'][indexof(['a','b','c','d','e','f','g','h','i','j','k','l','m','n'], datum.value)]"}}
    }
   },
   {"data": {"name": "curvesL"},
    "transform": [{"filter": {"field": "k", "oneOf": ["b","f","g","i","j","k","l","m","n"]}}],
    "mark": {"type": "line", "strokeWidth": 1.4, "interpolate": "monotone", "clip": true},
    "encoding": {
     "x": {"field": "x", "type": "quantitative", "title": "No. of point mutations in the cohort"},
     "y": {"field": "y", "type": "quantitative", "title": "Density", "scale": {"domain": [-0.053, 1.42], "nice": false, "zero": false}, "axis": {"values": [0, 0.2, 0.4, 0.6, 0.8, 1.0, 1.2, 1.4], "format": ".1f", "labelAngle": -90, "labelAlign": "center", "labelBaseline": "bottom", "labelPadding": 4, "titlePadding": 10}},
     "color": {"field": "k", "type": "nominal"},
     "strokeDash": {"field": "k", "type": "nominal"}
    }
   },
   {"data": {"name": "curvesL"},
    "transform": [{"filter": {"field": "k", "oneOf": ["a","c","d","h","e"]}}],
    "mark": {"type": "line", "strokeWidth": 1.8, "interpolate": "monotone", "clip": true},
    "encoding": {
     "x": {"field": "x", "type": "quantitative", "title": "No. of point mutations in the cohort"},
     "y": {"field": "y", "type": "quantitative", "title": "Density"},
     "color": {"field": "k", "type": "nominal"},
     "strokeDash": {"field": "k", "type": "nominal"}
    }
   }
  ]
 },
 {
  "width": 260, "height": 243,
  "title": {"text": "TCGA:LUSC; CNA genes"},
  "layer": [
   {"data": {"name": "meansR"},
    "mark": {"type": "rule", "strokeWidth": 1},
    "encoding": {
     "x": {"field": "m", "type": "quantitative", "title": "Point mutations per 1000 b.p.", "scale": {"type": "log", "domain": [1.47e-5, 0.076], "nice": false}, "axis": {"values": [0.0001, 0.001, 0.01], "labelExpr": "datum.value < 0.0005 ? '1e-04' : format(datum.value, '~g')", "labelPadding": 4, "titlePadding": 9, "labelBaseline": "top"}},
     "color": {"field": "k", "type": "nominal", "scale": {"domain": ["a","b","c","d","e","f","g","h","i","j","k","l","m","n"], "range": ["#D2691E","#98A6C4","#A8DC22","#F0641E","#A81818","#A88FCB","#2FCFE0","#FFD21A","#5AA8EE","#8EE2EE","#24C2A0","#45C96A","#BFD840","#C4C4C4"]}, "legend": {"title": null, "labelExpr": "['NEAdriver, combined across samples; mean=0.0037','Bailey2018.PANCAN; mean=0.0046',\"KEGG#05200 'Pathways_in_cancer'; mean=0.0024\",'KEGG, 5 general pathways; mean=0.0024','Literature/KEGG site-specific pathway; mean=0.0026','Martincorena-2017; mean=0.0036','IntOGen-2020; mean=0.01','Cancer Gene Census, site-specific set; mean=0.0065','FoundationOne; mean=0.0047','NetSig5000; mean=0.0038','MuSiC; mean=0.0059','HCD; mean=0.0048','MutSig; mean=0.0045','Other; mean=0.0018'][indexof(['a','b','c','d','e','f','g','h','i','j','k','l','m','n'], datum.value)]"}},
     "strokeDash": {"field": "k", "type": "nominal", "scale": {"domain": ["a","b","c","d","e","f","g","h","i","j","k","l","m","n"], "range": [[7,4],[1.4,2.6],[1,0],[1,0],[1,0],[1.4,2.6],[1.4,2.6],[1,0],[1.4,2.6],[1.4,2.6],[1.4,2.6],[1.4,2.6],[1.4,2.6],[1.4,2.6]]}, "legend": {"title": null, "labelExpr": "['NEAdriver, combined across samples; mean=0.0037','Bailey2018.PANCAN; mean=0.0046',\"KEGG#05200 'Pathways_in_cancer'; mean=0.0024\",'KEGG, 5 general pathways; mean=0.0024','Literature/KEGG site-specific pathway; mean=0.0026','Martincorena-2017; mean=0.0036','IntOGen-2020; mean=0.01','Cancer Gene Census, site-specific set; mean=0.0065','FoundationOne; mean=0.0047','NetSig5000; mean=0.0038','MuSiC; mean=0.0059','HCD; mean=0.0048','MutSig; mean=0.0045','Other; mean=0.0018'][indexof(['a','b','c','d','e','f','g','h','i','j','k','l','m','n'], datum.value)]"}}
    }
   },
   {"data": {"name": "curvesR"},
    "transform": [{"filter": {"field": "k", "oneOf": ["b","f","g","i","j","k","l","m","n"]}}],
    "mark": {"type": "line", "strokeWidth": 1.4, "interpolate": "monotone", "clip": true},
    "encoding": {
     "x": {"field": "x", "type": "quantitative", "title": "Point mutations per 1000 b.p."},
     "y": {"field": "y", "type": "quantitative", "title": "Density", "scale": {"domain": [-0.062, 1.66], "nice": false, "zero": false}, "axis": {"values": [0, 0.5, 1.0, 1.5], "format": ".1f", "labelAngle": -90, "labelAlign": "center", "labelBaseline": "bottom", "labelPadding": 4, "titlePadding": 10}},
     "color": {"field": "k", "type": "nominal"},
     "strokeDash": {"field": "k", "type": "nominal"}
    }
   },
   {"data": {"name": "curvesR"},
    "transform": [{"filter": {"field": "k", "oneOf": ["a","c","d","h","e"]}}],
    "mark": {"type": "line", "strokeWidth": 1.8, "interpolate": "monotone", "clip": true},
    "encoding": {
     "x": {"field": "x", "type": "quantitative", "title": "Point mutations per 1000 b.p."},
     "y": {"field": "y", "type": "quantitative", "title": "Density"},
     "color": {"field": "k", "type": "nominal"},
     "strokeDash": {"field": "k", "type": "nominal"}
    }
   }
  ]
 }
]
}
